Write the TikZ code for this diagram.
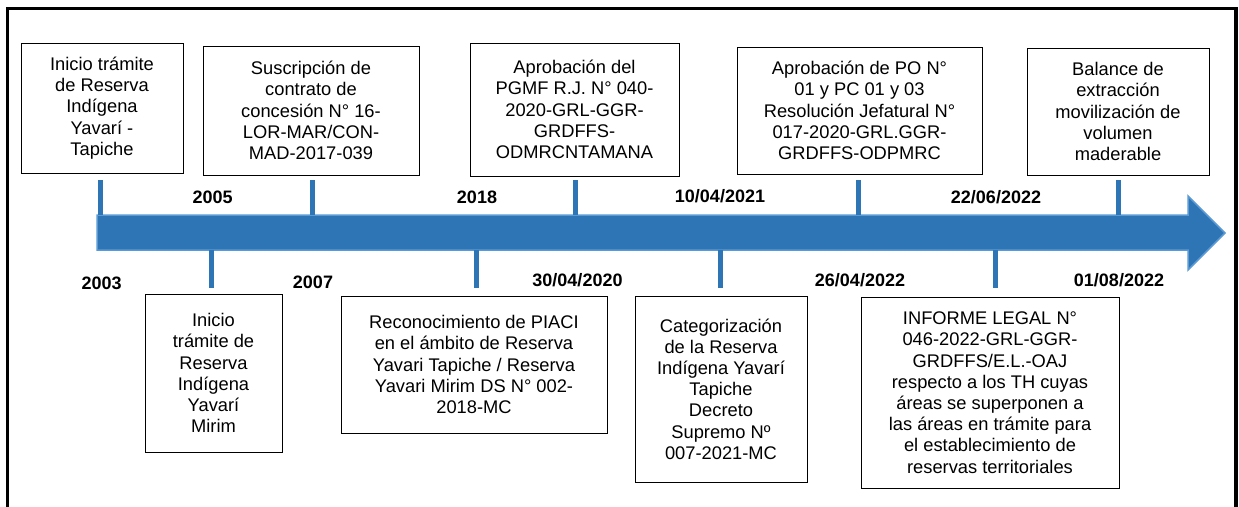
\documentclass[tikz,border=0pt]{standalone}
\usepackage{fontspec}
\setmainfont{Liberation Sans}
\definecolor{tlblue}{HTML}{2E75B6}
\definecolor{tledge}{HTML}{5B9BD5}
\begin{document}
\begin{tikzpicture}[x=1pt,y=-1pt,
  box/.style={draw=black, line width=1pt, inner sep=0pt, align=center,
    font=\fontsize{18.3}{21.2}\selectfont},
  yr/.style={font=\fontsize{18}{21}\selectfont\bfseries, inner sep=0pt},
  tickline/.style={draw=tlblue, line width=5pt}]
\useasboundingbox (0,0) rectangle (1239,506);
\clip (0,0) rectangle (1239,506);
\fill[white] (0,0) rectangle (1239,506);
% frame
\draw[line width=3.2pt] (7.5,530) -- (7.5,8.5) -- (1236,8.5) -- (1236,530);
% arrow
\draw[fill=tlblue, draw=tledge, line width=1.5pt, line join=miter]
  (97,215) -- (1188,215) -- (1188,196) -- (1225,233) -- (1188,270) -- (1188,250) -- (97,250) -- cycle;
% top boxes
\node[box, minimum width=162, minimum height=130] (t1) at (102,108)
  {Inicio trámite\\de Reserva\\Indígena\\Yavarí -\\Tapiche};
\node[box, minimum width=216, minimum height=129] (t2) at (311,110.5)
  {Suscripción de\\contrato de\\concesión N° 16-\\LOR-MAR/CON-\\MAD-2017-039};
\node[box, minimum width=209, minimum height=133] (t3) at (574.5,109.5)
  {Aprobación del\\PGMF R.J. N° 040-\\2020-GRL-GGR-\\GRDFFS-\\ODMRCNTAMANA};
\node[box, minimum width=245, minimum height=127] (t4) at (859.5,110.5)
  {Aprobación de PO N°\\01 y PC 01 y 03\\Resolución Jefatural N°\\017-2020-GRL.GGR-\\GRDFFS-ODPMRC};
\node[box, minimum width=182, minimum height=127] (t5) at (1118,111.5)
  {Balance de\\extracción\\movilización de\\volumen\\maderable};
% bottom boxes
\node[box, minimum width=137, minimum height=158] (b1) at (213.5,373)
  {Inicio\\trámite de\\Reserva\\Indígena\\Yavarí\\Mirim};
\node[box, minimum width=266, minimum height=137] (b2) at (474,364.5)
  {Reconocimiento de PIACI\\en el ámbito de Reserva\\Yavari Tapiche / Reserva\\Yavari Mirim DS N° 002-\\2018-MC};
\node[box, minimum width=172, minimum height=186] (b3) at (721,389)
  {Categorización\\de la Reserva\\Indígena Yavarí\\Tapiche\\Decreto\\Supremo Nº\\007-2021-MC};
\node[box, minimum width=258, minimum height=191] (b4) at (990,392.5)
  {INFORME LEGAL N°\\046-2022-GRL-GGR-\\GRDFFS/E.L.-OAJ\\respecto a los TH cuyas\\áreas se superponen a\\las áreas en trámite para\\el establecimiento de\\reservas territoriales};
% ticks
\coordinate (k1a) at (100,180);  \coordinate (k1b) at (100,215);
\coordinate (k2a) at (312,180);  \coordinate (k2b) at (312,215);
\coordinate (k3a) at (575,180);  \coordinate (k3b) at (575,215);
\coordinate (k4a) at (858,180);  \coordinate (k4b) at (858,215);
\coordinate (k5a) at (1118,180); \coordinate (k5b) at (1118,215);
\coordinate (m1a) at (211,250);  \coordinate (m1b) at (211,288);
\coordinate (m2a) at (476,250);  \coordinate (m2b) at (476,288);
\coordinate (m3a) at (720,250);  \coordinate (m3b) at (720,288);
\coordinate (m4a) at (995,250);  \coordinate (m4b) at (995,288);
\foreach \k in {k1,k2,k3,k4,k5,m1,m2,m3,m4}
  \draw[tickline] (\k a) -- (\k b);
% year labels
\node[yr] (y2003) at (101.7,283) {2003};
\node[yr] (y2005) at (212.7,197) {2005};
\node[yr] (y2007) at (313,282) {2007};
\node[yr] (y2018) at (477,197) {2018};
\node[yr] (y2021a) at (720,196) {10/04/2021};
\node[yr] (y2020) at (577.5,280) {30/04/2020};
\node[yr] (y2022a) at (860,280) {26/04/2022};
\node[yr] (y2022b) at (996,197) {22/06/2022};
\node[yr] (y2022c) at (1119,280) {01/08/2022};
\end{tikzpicture}
\end{document}
